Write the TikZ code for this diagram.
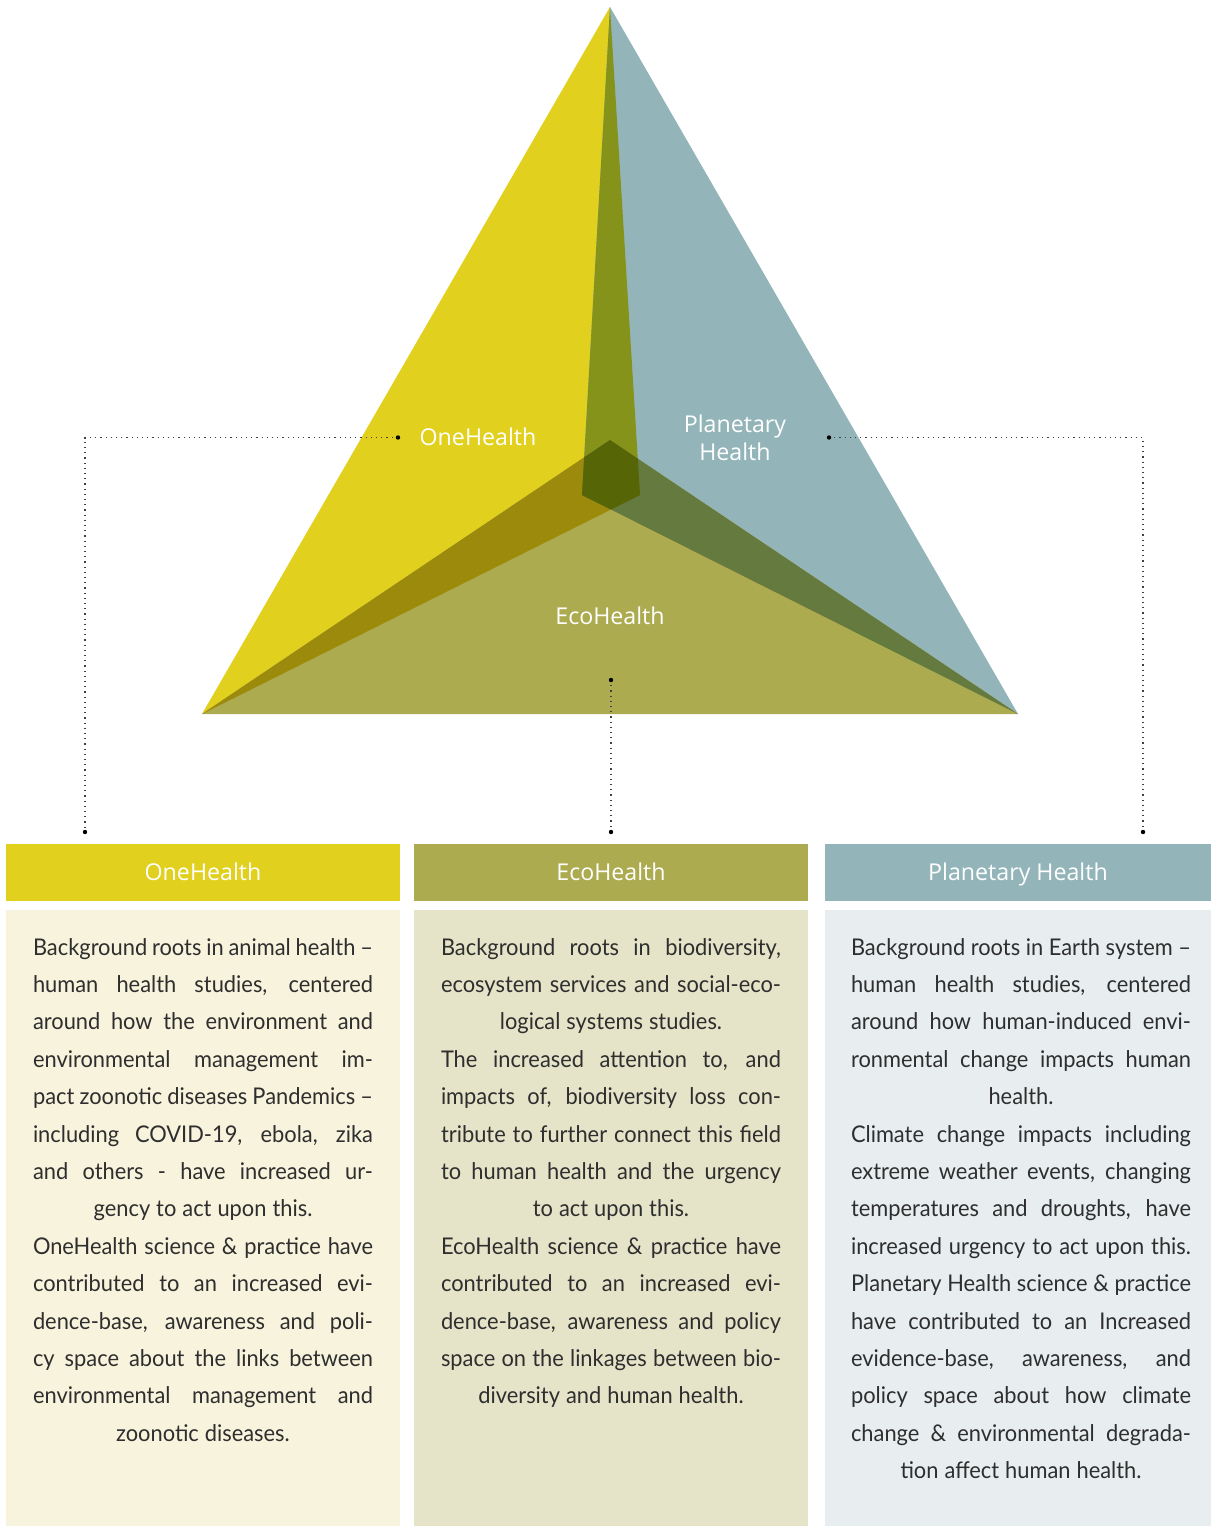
\documentclass[tikz,border=0pt]{standalone}
\usepackage{fontspec}
\setmainfont{Lato}[FakeStretch=0.95]
\newfontfamily\headfont{Open Sans}
\definecolor{cY}{HTML}{E2D01E}
\definecolor{cB}{HTML}{93B5BA}
\definecolor{cYB}{HTML}{85931A}
\definecolor{cE}{HTML}{ADAB50}
\definecolor{cYE}{HTML}{9C8A0C}
\definecolor{cBE}{HTML}{647A3E}
\definecolor{cYBE}{HTML}{566506}
\definecolor{bgY}{HTML}{F8F3DC}
\definecolor{bgE}{HTML}{E5E3C8}
\definecolor{bgB}{HTML}{E8EEF0}
\definecolor{txt}{HTML}{2E2E2E}
\newcommand\jl[1]{\hbox to\hsize{#1}}
\newcommand\cl[1]{\hbox to\hsize{\hfil#1\hfil}}
\newcommand\colbox[1]{\vtop{\hsize=170pt\baselineskip=18.7pt\spaceskip=.26em plus 2em minus .12em\relax #1}}
\begin{document}
\begin{tikzpicture}[x=0.5pt,y=-0.5pt,
  tlabel/.style={font=\headfont\fontsize{11.6}{14}\selectfont, text=white, inner sep=0pt, align=center},
  hdr/.style={font=\headfont\fontsize{11.6}{14}\selectfont, text=white, inner sep=0pt, text height=8.6pt, text depth=0pt, minimum height=28.5pt},
  bodybg/.style={inner sep=0pt, minimum height=308pt},
  body/.style={font=\fontsize{11.5}{18.7}\selectfont, text=txt, inner sep=0pt, anchor=base},
  conn/.style={dotted, line width=0.6pt, black!75},
  enddot/.style={fill=black}]
\useasboundingbox (0,0) rectangle (1211,1526);
% triangle geometry
\coordinate (A) at (610,7);
\coordinate (L) at (202,714);
\coordinate (R) at (1018,714);
\coordinate (P) at (640,495);
\coordinate (Q) at (582,495);
\coordinate (C) at (610,440);
\fill[cY] (A)--(L)--(P)--cycle;
\fill[cB] (A)--(R)--(Q)--cycle;
\begin{scope}
  \clip (A)--(L)--(P)--cycle;
  \fill[cYB] (A)--(R)--(Q)--cycle;
\end{scope}
\fill[cE] (L)--(R)--(C)--cycle;
\begin{scope}
  \clip (A)--(L)--(P)--cycle;
  \fill[cYE] (L)--(R)--(C)--cycle;
\end{scope}
\begin{scope}
  \clip (A)--(R)--(Q)--cycle;
  \fill[cBE] (L)--(R)--(C)--cycle;
\end{scope}
\begin{scope}
  \clip (A)--(L)--(P)--cycle;
  \clip (A)--(R)--(Q)--cycle;
  \fill[cYBE] (L)--(R)--(C)--cycle;
\end{scope}
% triangle labels
\node[tlabel] (lOH) at (478,437) {OneHealth};
\node[tlabel] (lPH) at (735,438) {Planetary\\Health};
\node[tlabel] (lEH) at (610,616) {EcoHealth};
% headers
\node[hdr, fill=cY, minimum width=197pt] (hOH) at (203,872) {OneHealth};
\node[hdr, fill=cE, minimum width=197pt] (hEH) at (611,872) {EcoHealth};
\node[hdr, fill=cB, minimum width=193pt] (hPH) at (1018,872) {Planetary Health};
% body backgrounds
\node[bodybg, fill=bgY, minimum width=197pt] (bOH) at (203,1218) {};
\node[bodybg, fill=bgE, minimum width=197pt] (bEH) at (611,1218) {};
\node[bodybg, fill=bgB, minimum width=193pt] (bPH) at (1018,1218) {};
% connectors
\coordinate (cOHs) at (398,437.5);
\coordinate (cOHe) at (85,832);
\coordinate (cPHs) at (829,437.5);
\coordinate (cPHe) at (1143,832);
\coordinate (cEHs) at (611,680);
\coordinate (cEHe) at (611,832);
\draw[conn] (cOHs) -| (cOHe);
\draw[conn] (cPHs) -| (cPHe);
\draw[conn] (cEHs) -- (cEHe);
\foreach \p in {cOHs,cOHe,cPHs,cPHe,cEHs,cEHe} \fill[enddot] (\p) circle (1.1pt);
% body texts
\node[body] (tOH) at (203,955) {\colbox{%
\jl{Background roots in animal health –}
\jl{human health studies, centered}
\jl{around how the environment and}
\jl{environmental management im-}
\jl{pact zoonotic diseases Pandemics –}
\jl{including COVID-19, ebola, zika}
\jl{and others - have increased ur-}
\cl{gency to act upon this.}
\jl{OneHealth science \& practice have}
\jl{contributed to an increased evi-}
\jl{dence-base, awareness and poli-}
\jl{cy space about the links between}
\jl{environmental management and}
\cl{zoonotic diseases.}}};
\node[body] (tEH) at (611,955) {\colbox{%
\jl{Background roots in biodiversity,}
\jl{ecosystem services and social-eco-}
\cl{logical systems studies.}
\jl{The increased attention to, and}
\jl{impacts of, biodiversity loss con-}
\jl{tribute to further connect this field}
\jl{to human health and the urgency}
\cl{to act upon this.}
\jl{EcoHealth science \& practice have}
\jl{contributed to an increased evi-}
\jl{dence-base, awareness and policy}
\jl{space on the linkages between bio-}
\cl{diversity and human health.}}};
\node[body] (tPH) at (1021,955) {\colbox{%
\jl{Background roots in Earth system –}
\jl{human health studies, centered}
\jl{around how human-induced envi-}
\jl{ronmental change impacts human}
\cl{health.}
\jl{Climate change impacts including}
\jl{extreme weather events, changing}
\jl{temperatures and droughts, have}
\jl{increased urgency to act upon this.}
\jl{Planetary Health science \& practice}
\jl{have contributed to an Increased}
\jl{evidence-base, awareness, and}
\jl{policy space about how climate}
\jl{change \& environmental degrada-}
\cl{tion affect human health.}}};
\end{tikzpicture}
\end{document}
